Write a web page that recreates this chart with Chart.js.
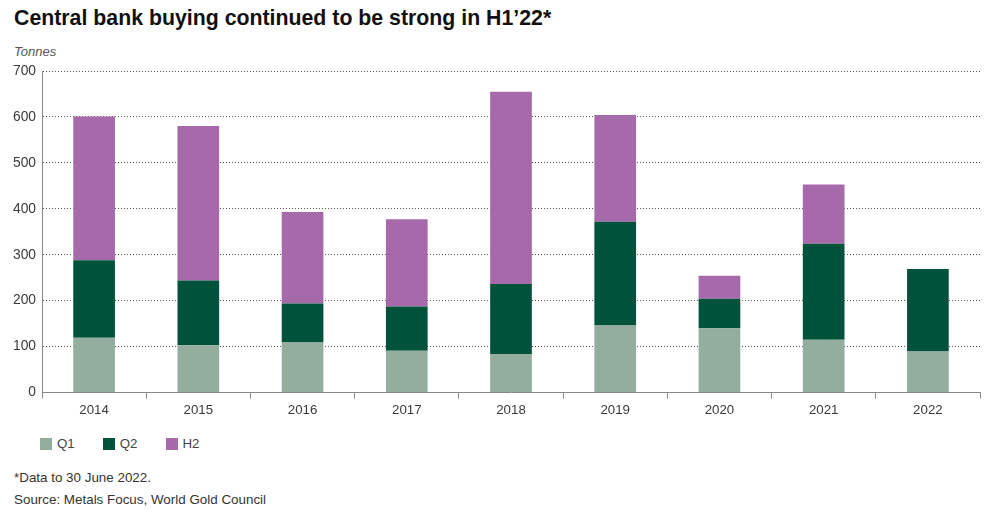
<!DOCTYPE html>
<html>
<head>
<meta charset="utf-8">
<script src="https://cdn.jsdelivr.net/npm/chart.js@4"></script>
<style>
  html, body { margin:0; padding:0; background:#fff; }
  body { width:1004px; height:512px; position:relative; overflow:hidden; font-family:"Liberation Sans", Arial, sans-serif; }
  #title { position:absolute; left:14px; top:6px; font-weight:bold; font-size:21.3px; color:#111; white-space:nowrap; }
  #unit { position:absolute; left:14px; top:44px; font-style:italic; font-size:13px; color:#555; }
  #wrap { position:absolute; left:0; top:0; width:1004px; height:430px; }
  #legend { position:absolute; left:40px; top:436px; font-size:13.3px; color:#444; display:flex; }
  .li { display:flex; align-items:center; margin-right:28px; }
  .sw { width:12px; height:12px; margin-right:5px; }
  .note { position:absolute; left:14px; font-size:13.4px; color:#333; white-space:nowrap; }
</style>
</head>
<body>
<div id="title">Central bank buying continued to be strong in H1’22*</div>
<div id="unit">Tonnes</div>
<div id="wrap"><canvas id="c"></canvas></div>
<div id="legend"></div>
<div class="note" style="top:470px">*Data to 30 June 2022.</div>
<div class="note" style="top:492px">Source: Metals Focus, World Gold Council</div>
<script>
const categories = ["2014","2015","2016","2017","2018","2019","2020","2021","2022"];
const q1 = [119, 103, 109, 91, 84, 146, 140, 115, 89];
const q2 = [169, 141, 85, 96, 152, 226, 64, 209, 180];
const h2 = [313, 336, 199, 190, 419, 232, 50, 129, null];
const yTicks = [0, 100, 200, 300, 400, 500, 600, 700];
const seriesNames = ["Q1", "Q2", "H2"];
const seriesColors = ["#93ad9f", "#00533a", "#a66aab"];

const datasets = [q1, q2, h2].map((d, i) => ({
  label: seriesNames[i],
  data: d,
  backgroundColor: seriesColors[i],
  borderWidth: 0,
  barPercentage: 0.4,
  categoryPercentage: 1.0,
  stack: "s"
}));

const chart = new Chart(document.getElementById("c"), {
  type: "bar",
  data: { labels: categories, datasets },
  options: {
    responsive: true,
    maintainAspectRatio: false,
    animation: false,
    layout: { padding: { top: 71, right: 24, left: 0, bottom: 0 } },
    plugins: { legend: { display: false }, tooltip: { enabled: false }, title: { display: false } },
    scales: {
      x: {
        stacked: true,
        offset: true,
        grid: { display: true, drawOnChartArea: false, drawTicks: true, tickLength: 6, color: "#888", offset: true },
        border: { display: true, color: "#888", width: 1 },
        ticks: { color: "#3a3a3a", font: { family: "Liberation Sans", size: 13.3 }, padding: 4 },
        afterFit: s => { s.height = 430 - 392.5; }
      },
      y: {
        stacked: true,
        min: 0, max: 700,
        afterBuildTicks: s => { s.ticks = yTicks.map(v => ({ value: v })); },
        grid: { drawTicks: false, color: ctx => (ctx.tick && ctx.tick.value === 0) ? "rgba(0,0,0,0)" : "#555", lineWidth: 1 },
        border: { display: true, color: "#888", width: 1, dash: [1, 2] },
        ticks: { color: "#3a3a3a", font: { family: "Liberation Sans", size: 13.8 }, padding: 6 },
        afterFit: s => { s.width = 42; }
      }
    }
  }
});

const lg = document.getElementById("legend");
chart.data.datasets.forEach(ds => {
  const it = document.createElement("div"); it.className = "li";
  const sw = document.createElement("div"); sw.className = "sw"; sw.style.background = ds.backgroundColor;
  const tx = document.createElement("span"); tx.textContent = ds.label;
  it.appendChild(sw); it.appendChild(tx); lg.appendChild(it);
});
</script>
</body>
</html>
